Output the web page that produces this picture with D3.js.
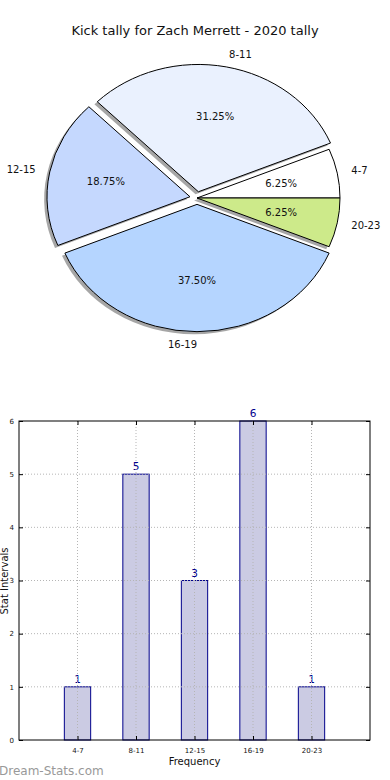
<!DOCTYPE html>
<html>
<head>
<meta charset="utf-8">
<title>Kick tally</title>
<script src="https://cdn.jsdelivr.net/npm/d3@7"></script>
<style>
  body { margin: 0; background: #fff; }
  text { font-family: "DejaVu Sans", sans-serif; }
</style>
</head>
<body>
<svg width="390" height="780"></svg>
<script>
// data
var categories = ["4-7", "8-11", "12-15", "16-19", "20-23"];
var counts = [1, 5, 3, 6, 1];
var sliceColors = ["#ffffff", "#eaf1fe", "#c5d8fe", "#b5d5ff", "#cdea8a"];
var explode = [0, 0.05, 0.05, 0.05, 0];
var yTicks = [0, 1, 2, 3, 4, 5, 6];

var svg = d3.select("svg");
var total = d3.sum(counts);

// ---- pie ----
svg.append("text")
    .attr("x", 195)
    .attr("y", 35)
    .attr("text-anchor", "middle")
    .attr("font-size", 13)
    .attr("fill", "#111")
    .text("Kick tally for Zach Merrett - 2020 tally");

var cx = 197, cy = 198, rx = 143, ry = 127.3;
var sy = ry / rx;

// matplotlib style: start at 3 o'clock, go counter clockwise
var pie = d3.pie().sort(null)
    .startAngle(Math.PI / 2)
    .endAngle(Math.PI / 2 - 2 * Math.PI);
var arcs = pie(counts);
var arc = d3.arc().innerRadius(0).outerRadius(rx);

function mid(d) { return (d.startAngle + d.endAngle) / 2; }

var shadows = svg.append("g")
    .attr("transform", "translate(" + (cx - 0.02 * rx) + "," + (cy + 0.02 * ry) + ") scale(1," + sy + ")");
shadows.selectAll("path")
  .data(arcs)
  .enter().append("path")
    .attr("transform", function(d, i) {
      var m = mid(d);
      return "translate(" + (explode[i] * rx * Math.sin(m)) + "," + (-explode[i] * rx * Math.cos(m)) + ")";
    })
    .attr("d", arc)
    .attr("fill", "#4d4d4d")
    .attr("fill-opacity", 0.5);

var wedges = svg.append("g")
    .attr("transform", "translate(" + cx + "," + cy + ") scale(1," + sy + ")");
wedges.selectAll("path")
  .data(arcs)
  .enter().append("path")
    .attr("transform", function(d, i) {
      var m = mid(d);
      return "translate(" + (explode[i] * rx * Math.sin(m)) + "," + (-explode[i] * rx * Math.cos(m)) + ")";
    })
    .attr("d", arc)
    .attr("fill", function(d, i) { return sliceColors[i]; })
    .attr("stroke", "#000")
    .attr("stroke-width", 1)
    .attr("vector-effect", "non-scaling-stroke");

// labels outside (1.1 r) and percentages inside (0.6 r)
svg.append("g").selectAll("text")
  .data(arcs)
  .enter().append("text")
    .attr("x", function(d, i) { return cx + (explode[i] + 1.1) * rx * Math.sin(mid(d)); })
    .attr("y", function(d, i) { return cy - (explode[i] + 1.1) * ry * Math.cos(mid(d)); })
    .attr("dy", "0.35em")
    .attr("text-anchor", function(d) { return Math.sin(mid(d)) > 0 ? "start" : "end"; })
    .attr("font-size", 10)
    .attr("fill", "#111")
    .text(function(d, i) { return categories[i]; });

svg.append("g").selectAll("text")
  .data(arcs)
  .enter().append("text")
    .attr("x", function(d, i) { return cx + explode[i] * rx * Math.sin(mid(d)) + 0.6 * rx * Math.sin(mid(d)); })
    .attr("y", function(d, i) { return cy - explode[i] * ry * Math.cos(mid(d)) - 0.6 * ry * Math.cos(mid(d)); })
    .attr("dy", "0.35em")
    .attr("text-anchor", "middle")
    .attr("font-size", 10)
    .attr("fill", "#111")
    .text(function(d) { return (d.value / total * 100).toFixed(2) + "%"; });

// ---- bars ----
var plotL = 19, plotR = 370, plotT = 421, plotB = 740;
var x = d3.scaleLinear().domain([0, categories.length + 1]).range([plotL, plotR]);
var y = d3.scaleLinear().domain([0, 6]).range([plotB, plotT]);
var barW = x(0.45) - x(0);

var bars = svg.append("g");
bars.selectAll("rect")
  .data(counts)
  .enter().append("rect")
    .attr("x", function(d, i) { return x(i + 1) - barW / 2; })
    .attr("y", function(d) { return y(d); })
    .attr("width", barW)
    .attr("height", function(d) { return y(0) - y(d); })
    .attr("fill", "#cbcbe3")
    .attr("stroke", "#00008b")
    .attr("stroke-width", 1);

bars.selectAll("text")
  .data(counts)
  .enter().append("text")
    .attr("x", function(d, i) { return x(i + 1); })
    .attr("y", function(d) { return y(d) - 4; })
    .attr("text-anchor", "middle")
    .attr("font-size", 10.5)
    .attr("fill", "#00008b")
    .text(function(d) { return d; });

// dotted grid over the bars
var grid = svg.append("g")
    .attr("stroke", "#b5b5b5")
    .attr("stroke-dasharray", "1,2")
    .attr("stroke-width", 1);
grid.selectAll("line.v")
  .data(categories)
  .enter().append("line")
    .attr("class", "v")
    .attr("x1", function(d, i) { return x(i + 1); })
    .attr("x2", function(d, i) { return x(i + 1); })
    .attr("y1", plotT)
    .attr("y2", plotB);
grid.selectAll("line.h")
  .data(yTicks.slice(1, -1))
  .enter().append("line")
    .attr("class", "h")
    .attr("x1", plotL)
    .attr("x2", plotR)
    .attr("y1", function(d) { return y(d); })
    .attr("y2", function(d) { return y(d); });

// axes with inward ticks on all sides
var xAxis = svg.append("g")
    .attr("transform", "translate(0," + plotB + ")")
    .call(d3.axisBottom(x)
      .tickValues(d3.range(1, categories.length + 1))
      .tickFormat(function(d) { return categories[d - 1]; })
      .tickSizeInner(-4).tickSizeOuter(0).tickPadding(8));
xAxis.selectAll("text").attr("font-size", 7).attr("fill", "#111");
xAxis.select(".domain").remove();

svg.append("g")
    .attr("transform", "translate(0," + plotT + ")")
    .call(d3.axisTop(x).tickValues(d3.range(1, categories.length + 1))
      .tickFormat("").tickSizeInner(-4).tickSizeOuter(0))
    .select(".domain").remove();

var yAxis = svg.append("g")
    .attr("transform", "translate(" + plotL + ",0)")
    .call(d3.axisLeft(y).tickValues(yTicks).tickFormat(d3.format("d"))
      .tickSizeInner(-4).tickSizeOuter(0).tickPadding(5));
yAxis.selectAll("text").attr("font-size", 7).attr("fill", "#111");
yAxis.select(".domain").remove();

svg.append("g")
    .attr("transform", "translate(" + plotR + ",0)")
    .call(d3.axisRight(y).tickValues(yTicks).tickFormat("")
      .tickSizeInner(-4).tickSizeOuter(0))
    .select(".domain").remove();

svg.append("rect")
    .attr("x", plotL)
    .attr("y", plotT)
    .attr("width", plotR - plotL)
    .attr("height", plotB - plotT)
    .attr("fill", "none")
    .attr("stroke", "#000")
    .attr("stroke-width", 1);

svg.append("text")
    .attr("x", (plotL + plotR) / 2)
    .attr("y", 765)
    .attr("text-anchor", "middle")
    .attr("font-size", 10)
    .attr("fill", "#111")
    .text("Frequency");

svg.append("text")
    .attr("transform", "translate(8,581) rotate(-90)")
    .attr("text-anchor", "middle")
    .attr("font-size", 10)
    .attr("fill", "#111")
    .text("Stat Intervals");

svg.append("text")
    .attr("x", -1)
    .attr("y", 775)
    .attr("font-size", 12)
    .attr("fill", "#999")
    .text("Dream-Stats.com");
</script>
</body>
</html>
